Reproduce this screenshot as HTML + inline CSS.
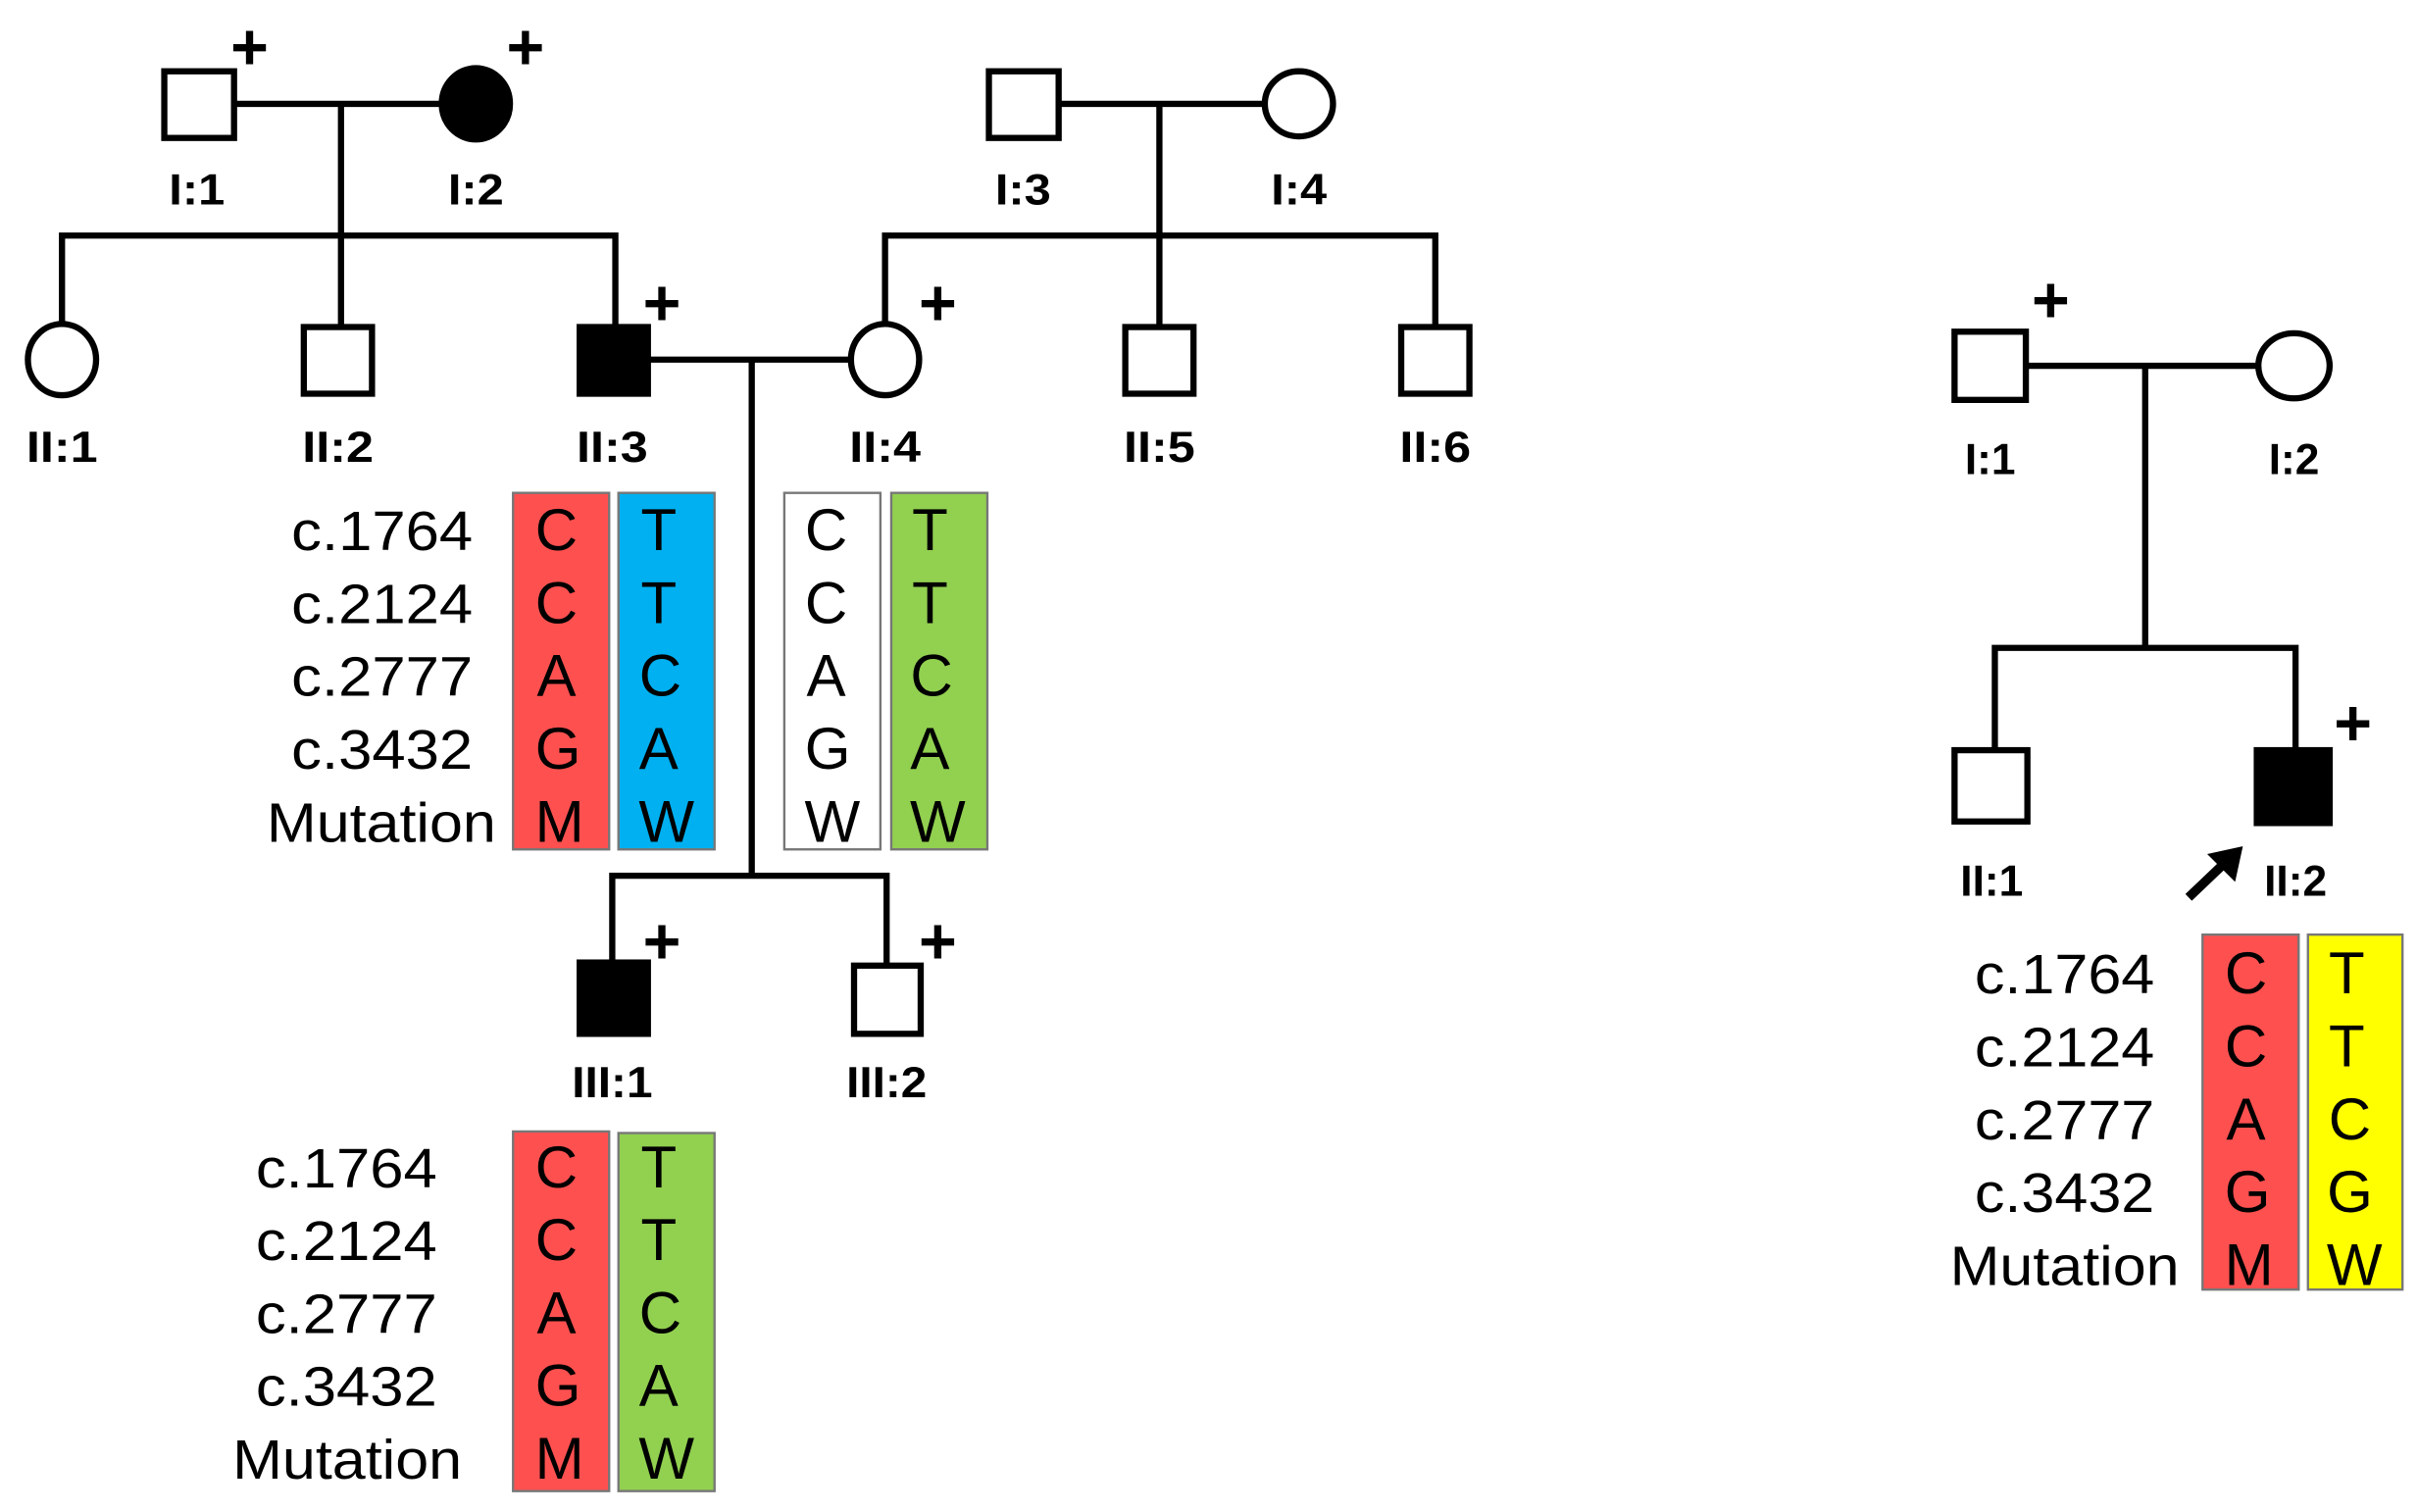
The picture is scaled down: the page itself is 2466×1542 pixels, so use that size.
<!DOCTYPE html>
<html><head><meta charset="utf-8"><style>
html,body{margin:0;padding:0;background:#fff}
svg{display:block}
.lb{font-family:"Liberation Sans",sans-serif;font-weight:bold;font-size:28px;text-anchor:middle}
.nm{font-family:"Liberation Sans",sans-serif;font-size:36px;text-anchor:end}
.al{font-family:"Liberation Sans",sans-serif;font-size:38px;text-anchor:middle}
.pl{font-family:"Liberation Sans",sans-serif;font-weight:bold;font-size:42px;text-anchor:middle}
</style></head><body>
<svg width="2466" height="1542" viewBox="0 0 1560 975.5" preserveAspectRatio="none" xmlns="http://www.w3.org/2000/svg">
<g stroke="#000" stroke-width="4" fill="none">
<line x1="152" y1="67" x2="285" y2="67"/>
<line x1="220" y1="67" x2="220" y2="210"/>
<polyline points="40,210 40,152 397,152 397,210"/>
<line x1="683" y1="67" x2="815" y2="67"/>
<line x1="748" y1="67" x2="748" y2="210"/>
<polyline points="571,209 571,152 926,152 926,210"/>
<line x1="418" y1="232" x2="548" y2="232"/>
<line x1="485" y1="232" x2="485" y2="565"/>
<polyline points="395,620 395,565 572,565 572,622"/>
<rect x="106" y="46" width="45" height="43" fill="#fff"/>
<ellipse cx="307" cy="67" rx="22" ry="23" fill="#000"/>
<rect x="638" y="46" width="45" height="43" fill="#fff"/>
<ellipse cx="838" cy="67" rx="22" ry="21" fill="#fff"/>
<ellipse cx="40" cy="232" rx="22" ry="23" fill="#fff"/>
<rect x="196" y="211" width="44" height="43" fill="#fff"/>
<rect x="374" y="211" width="44" height="43" fill="#000"/>
<ellipse cx="571" cy="232" rx="22" ry="23" fill="#fff"/>
<rect x="726" y="211" width="44" height="43" fill="#fff"/>
<rect x="904" y="211" width="44" height="43" fill="#fff"/>
<rect x="374" y="621" width="44" height="46" fill="#000"/>
<rect x="551" y="623" width="43" height="44" fill="#fff"/>
<line x1="1308" y1="236" x2="1456" y2="236"/>
<line x1="1384" y1="236" x2="1384" y2="418"/>
<polyline points="1287,483 1287,418 1481,418 1481,483"/>
<rect x="1261" y="214" width="46" height="44" fill="#fff"/>
<ellipse cx="1480" cy="236" rx="23" ry="21" fill="#fff"/>
<rect x="1261" y="484" width="47" height="46" fill="#fff"/>
<rect x="1456" y="484" width="47" height="47" fill="#000"/>
</g>
<g stroke="#000" stroke-width="6" fill="#000">
<line x1="1412" y1="579" x2="1434" y2="558"/>
</g>
<polygon points="1447,546 1424,551 1442,569" fill="#000"/>
<g class="pl">
<text x="161" y="45">+</text><text x="339" y="45">+</text>
<text x="427" y="210">+</text><text x="605" y="210">+</text>
<text x="427" y="622">+</text><text x="605" y="622">+</text>
<text x="1323" y="208">+</text><text x="1518" y="481">+</text>
</g>
<g class="lb">
<text x="127" y="132" textLength="36" lengthAdjust="spacingAndGlyphs">I:1</text>
<text x="307" y="132" textLength="36" lengthAdjust="spacingAndGlyphs">I:2</text>
<text x="660" y="132" textLength="36" lengthAdjust="spacingAndGlyphs">I:3</text>
<text x="838" y="132" textLength="36" lengthAdjust="spacingAndGlyphs">I:4</text>
<text x="40" y="298" textLength="46" lengthAdjust="spacingAndGlyphs">II:1</text>
<text x="218" y="298" textLength="46" lengthAdjust="spacingAndGlyphs">II:2</text>
<text x="395" y="298" textLength="46" lengthAdjust="spacingAndGlyphs">II:3</text>
<text x="571" y="298" textLength="46" lengthAdjust="spacingAndGlyphs">II:4</text>
<text x="748" y="298" textLength="46" lengthAdjust="spacingAndGlyphs">II:5</text>
<text x="926" y="298" textLength="46" lengthAdjust="spacingAndGlyphs">II:6</text>
<text x="395" y="708" textLength="52" lengthAdjust="spacingAndGlyphs">III:1</text>
<text x="572" y="708" textLength="52" lengthAdjust="spacingAndGlyphs">III:2</text>
<text x="1284" y="306">I:1</text>
<text x="1480" y="306">I:2</text>
<text x="1285" y="578">II:1</text>
<text x="1481" y="578">II:2</text>
</g>
<g stroke="#777" stroke-width="1.5">
<rect x="331" y="318" width="62" height="230" fill="#ff5050"/>
<rect x="399" y="318" width="62" height="230" fill="#00b0f0"/>
<rect x="506" y="318" width="62" height="230" fill="#fff"/>
<rect x="575" y="318" width="62" height="230" fill="#92d050"/>
<rect x="331" y="730" width="62" height="232" fill="#ff5050"/>
<rect x="399" y="731" width="62" height="231" fill="#92d050"/>
<rect x="1421" y="603" width="62" height="229" fill="#ff5050"/>
<rect x="1489" y="603" width="61" height="229" fill="#ffff00"/>
</g>
<g class="nm">
<text x="305" y="355" textLength="117" lengthAdjust="spacingAndGlyphs">c.1764</text>
<text x="305" y="402" textLength="117" lengthAdjust="spacingAndGlyphs">c.2124</text>
<text x="305" y="449" textLength="117" lengthAdjust="spacingAndGlyphs">c.2777</text>
<text x="305" y="496" textLength="117" lengthAdjust="spacingAndGlyphs">c.3432</text>
<text x="320" y="543" textLength="148" lengthAdjust="spacingAndGlyphs">Mutation</text>
<text x="282" y="766" textLength="117" lengthAdjust="spacingAndGlyphs">c.1764</text>
<text x="282" y="813" textLength="117" lengthAdjust="spacingAndGlyphs">c.2124</text>
<text x="282" y="860" textLength="117" lengthAdjust="spacingAndGlyphs">c.2777</text>
<text x="282" y="907" textLength="117" lengthAdjust="spacingAndGlyphs">c.3432</text>
<text x="298" y="954" textLength="148" lengthAdjust="spacingAndGlyphs">Mutation</text>
<text x="1390" y="641" textLength="116" lengthAdjust="spacingAndGlyphs">c.1764</text>
<text x="1390" y="688" textLength="116" lengthAdjust="spacingAndGlyphs">c.2124</text>
<text x="1390" y="735" textLength="116" lengthAdjust="spacingAndGlyphs">c.2777</text>
<text x="1390" y="782" textLength="116" lengthAdjust="spacingAndGlyphs">c.3432</text>
<text x="1406" y="829" textLength="148" lengthAdjust="spacingAndGlyphs">Mutation</text>
</g>
<g class="al">
<text x="359" y="355">C</text><text x="359" y="402">C</text><text x="359" y="449">A</text><text x="360" y="496">G</text><text x="361" y="543">M</text>
<text x="425" y="355">T</text><text x="425" y="402">T</text><text x="426" y="449">C</text><text x="425" y="496">A</text><text x="430" y="543">W</text>
<text x="533" y="355">C</text><text x="533" y="402">C</text><text x="533" y="449">A</text><text x="534" y="496">G</text><text x="537" y="543">W</text>
<text x="600" y="355">T</text><text x="600" y="402">T</text><text x="601" y="449">C</text><text x="600" y="496">A</text><text x="605" y="543">W</text>
<text x="359" y="766">C</text><text x="359" y="813">C</text><text x="359" y="860">A</text><text x="360" y="907">G</text><text x="361" y="954">M</text>
<text x="425" y="766">T</text><text x="425" y="813">T</text><text x="426" y="860">C</text><text x="425" y="907">A</text><text x="430" y="954">W</text>
<text x="1449" y="641">C</text><text x="1449" y="688">C</text><text x="1449" y="735">A</text><text x="1450" y="782">G</text><text x="1451" y="829">M</text>
<text x="1514" y="641">T</text><text x="1514" y="688">T</text><text x="1516" y="735">C</text><text x="1516" y="782">G</text><text x="1519" y="829">W</text>
</g>
</svg>
</body></html>
